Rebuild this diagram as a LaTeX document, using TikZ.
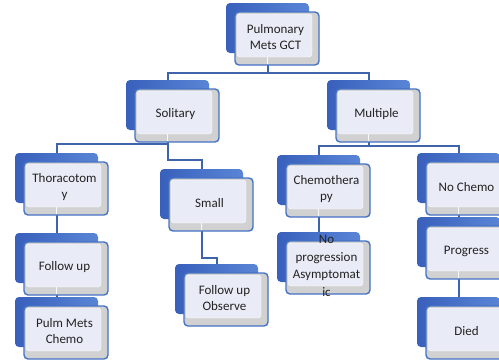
\documentclass[tikz,border=0pt]{standalone}
\usepackage{fontspec}
\setmainfont{Carlito}
\usetikzlibrary{calc}
\definecolor{bdark}{HTML}{3860BC}
\definecolor{blight}{HTML}{5A85D6}
\definecolor{bborder}{HTML}{4472C4}
\definecolor{sgrey}{HTML}{D1D1D1}
\definecolor{lav}{HTML}{E9ECF6}
\definecolor{tgrey}{HTML}{222222}
\definecolor{lcol}{HTML}{3F63AC}
\tikzset{
  backbox/.style={rounded corners=4pt, left color=bdark, right color=blight, draw=none,
    minimum width=83pt, minimum height=50pt, inner sep=0pt, outer sep=0pt, anchor=north west},
  frontbox/.style={rounded corners=4pt, draw=bborder, line width=1.4pt, fill=sgrey,
    minimum width=84pt, minimum height=53pt, inner sep=0pt, outer sep=0pt, anchor=north west},
  innerbox/.style={rounded corners=3pt, fill=lav, draw=white, line width=0.4pt,
    minimum width=75pt, minimum height=43pt, inner sep=0pt, outer sep=0pt, anchor=north west},
  labeltext/.style={align=center, text=tgrey, inner sep=0pt, font=\fontsize{13}{15.5}\selectfont},
  link/.style={draw=lcol, line width=2pt},
  tickmark/.style={draw=white!85!sgrey, line width=1.6pt}
}
\newcommand\frontnode[4]{%
  \node[frontbox] (#1) at (#2+9,#3+9) {};
  \node[innerbox] (#1i) at ($(#1.north west)+(2,2)$) {};
  \node[labeltext] (#1t) at ($(#1.center)+(-1.5,-1.5)$) {#4};
}
\newcommand\gtick[1]{%
  \draw[tickmark] ($(#1.south)+(-9.5,-1)$) -- ++(0,-7);
}
\begin{document}
\begin{tikzpicture}[x=1pt,y=-1pt]
\useasboundingbox (0,0) rectangle (499,360);
\clip (0,0) rectangle (499,360);
\fill[white] (0,0) rectangle (499,360);
% back boxes
\node[backbox] (topb) at (226,3) {};
\node[backbox] (solb) at (126,80) {};
\node[backbox] (mulb) at (327,80) {};
\node[backbox] (thob) at (15,153) {};
\node[backbox] (smlb) at (160,169) {};
\node[backbox] (cheb) at (277,155) {};
\node[backbox] (nopb) at (277,232) {};
\node[backbox] (nocb) at (417,153) {};
\node[backbox] (prob) at (417,217) {};
\node[backbox] (dieb) at (417,297) {};
\node[backbox] (fub) at (15,233) {};
\node[backbox] (pmcb) at (15,297) {};
\node[backbox] (fuob) at (175,264) {};
% connectors
\coordinate (j1) at (267.5,73);
\coordinate (j2) at (167.5,144);
\coordinate (j3) at (368.5,146);
\draw[link] (topb.south) -- (j1);
\draw[link] (solb.north) |- (j1) -| (mulb.north);
\draw[link] (solb.south) -- (j2);
\draw[link] (thob.north) |- (j2);
\draw[link] (j2) -- ++(0,16) -| (smlb.north);
\draw[link] (mulb.south) -- (j3);
\draw[link] (cheb.north) |- (j3) -| (nocb.north);
\draw[link] (cheb.south) -- (nopb.north);
\draw[link] (thob.south) -- (fub.north);
\draw[link] (fub.south) -- (pmcb.north);
\draw[link] (smlb.south) |- ($(fuob.north)+(0,-6)$) -- (fuob.north);
\draw[link] (nocb.south) -- (prob.north);
\draw[link] (prob.south) -- (dieb.north);
% front boxes with texts
\frontnode{top}{226}{3}{Pulmonary\\Mets GCT}
\frontnode{sol}{126}{80}{Solitary}
\frontnode{mul}{327}{80}{Multiple}
\frontnode{tho}{15}{153}{Thoracotom\\y}
\frontnode{sml}{160}{169}{Small}
\frontnode{che}{277}{155}{Chemothera\\py}
\frontnode{nop}{277}{232}{}
\node[labeltext, font=\fontsize{13}{17.5}\selectfont] (nopt) at ($(nop.center)+(-1.5,-1.5)$) {No\\progression\\Asymptomat\\ic};
\frontnode{noc}{417}{153}{No Chemo}
\frontnode{pro}{417}{217}{Progress}
\frontnode{die}{417}{297}{Died}
\frontnode{fu}{15}{233}{Follow up}
\frontnode{pmc}{15}{297}{Pulm Mets\\Chemo}
\frontnode{fuo}{175}{264}{Follow up\\Observe}
% light ticks where connectors pass behind the fronts
\gtick{top}\gtick{sol}\gtick{mul}\gtick{tho}\gtick{sml}\gtick{che}\gtick{noc}\gtick{pro}\gtick{fu}
\end{tikzpicture}
\end{document}
